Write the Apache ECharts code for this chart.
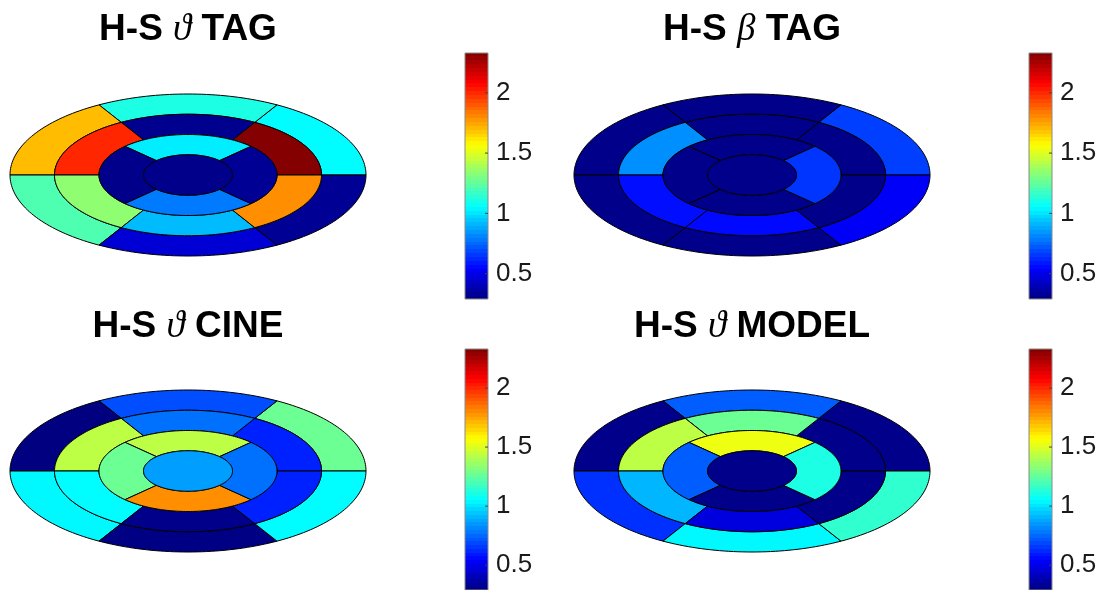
<!DOCTYPE html>
<html>
<head>
<meta charset="utf-8">
<script src="https://cdn.jsdelivr.net/npm/echarts@6.0.0/dist/echarts.min.js"></script>
<style>
html,body{margin:0;padding:0;background:#fff;}
#chart{width:1103px;height:590px;}
</style>
</head>
<body>
<div id="chart"></div>
<script>
// ---- data ----
// segment order: basal ring (6, from 0deg counter-clockwise by 60deg), mid ring (6, same),
// apical ring (4: top, left, bottom, right), apex (1)
const titlePrefix = ['H-S ', 'H-S ', 'H-S ', 'H-S '];
const titleGreek = ['ϑ', 'β', 'ϑ', 'ϑ'];
const titleSuffix = [' TAG', ' TAG', ' CINE', ' MODEL'];

const tagTheta   = [1.05, 1.11, 1.70, 1.21, 0.46, 0.33,  2.32, 0.32, 2.00, 1.34, 0.92, 1.79,  1.02, 0.31, 0.79, 0.33,  0.31];
const tagBeta    = [0.67, 0.31, 0.31, 0.31, 0.31, 0.53,  0.31, 0.31, 0.83, 0.57, 0.56, 0.31,  0.31, 0.31, 0.31, 0.65,  0.31];
const cineTheta  = [1.27, 0.70, 0.29, 1.04, 0.30, 1.05,  0.61, 0.77, 1.43, 1.05, 0.31, 0.61,  1.43, 1.27, 1.79, 0.77,  0.86];
const modelTheta = [0.31, 0.73, 0.31, 0.64, 1.04, 1.15,  0.31, 1.27, 1.43, 0.91, 0.48, 0.31,  1.53, 0.73, 0.31, 1.11,  0.31];

const colorTicks = [0.5, 1, 1.5, 2];
const CMIN = 0.29, CMAX = 2.33;

// ---- segment geometry (17-segment bull's-eye) ----
const ringBasal = [0.75, 1.0], ringMid = [0.5, 0.75], ringApical = [0.25, 0.5], ringApex = [0, 0.25];
const basalStarts = [0, 60, 120, 180, 240, 300];
const apicalStarts = [45, 135, 225, 315];
const segments = [];
basalStarts.forEach(a => segments.push([ringBasal[0], ringBasal[1], a, a + 60]));
basalStarts.forEach(a => segments.push([ringMid[0], ringMid[1], a, a + 60]));
apicalStarts.forEach(a => segments.push([ringApical[0], ringApical[1], a, a + 90]));
segments.push([ringApex[0], ringApex[1], 0, 360]);

const panels = [tagTheta, tagBeta, cineTheta, modelTheta];

// ---- layout ----
const cx = [188, 752, 188, 752];
const cy = [175, 175, 471, 471];
const RX = 178, RY = 81;
const cbLeft = [465, 1029, 465, 1029];
const cbTop = [53, 53, 349, 349];
const cbHeight = [246, 246, 242, 242];
const titleY = [30, 30, 327, 327];

// jet colormap
function jet(t) {
  const c = v => Math.max(0, Math.min(1, v));
  const r = c(Math.min(4 * t - 1.5, -4 * t + 4.5));
  const g = c(Math.min(4 * t - 0.5, -4 * t + 3.5));
  const b = c(Math.min(4 * t + 0.5, -4 * t + 2.5));
  return 'rgb(' + Math.round(r * 255) + ',' + Math.round(g * 255) + ',' + Math.round(b * 255) + ')';
}
const jetKeys = [];
for (let i = 0; i <= 8; i++) jetKeys.push(jet(i / 8));
const bandStops = [];
for (let i = 0; i < 64; i++) {
  const col = jet((i + 0.5) / 64);
  bandStops.push({offset: i / 64, color: col});
  bandStops.push({offset: (i + 1) / 64, color: col});
}

const grids = [], xAxes = [], yAxes = [], series = [], graphics = [];

panels.forEach((vals, p) => {
  grids.push({left: cx[p] - RX, top: cy[p] - RY, width: 2 * RX, height: 2 * RY, containLabel: false});
  xAxes.push({gridIndex: p, type: 'value', min: -1, max: 1, show: false});
  yAxes.push({gridIndex: p, type: 'value', min: -1, max: 1, show: false});
  series.push({
    type: 'custom',
    coordinateSystem: 'cartesian2d',
    xAxisIndex: p, yAxisIndex: p,
    clip: false,
    encode: {x: 0, y: 1},
    data: segments.map((s, i) => ({value: [s[0], s[1], s[2], s[3], vals[i]]})),
    renderItem: function (params, api) {
      const r0 = api.value(0), r1 = api.value(1), a0 = api.value(2), a1 = api.value(3);
      const n = Math.max(12, Math.ceil((a1 - a0) / 1.5));
      const pts = [];
      for (let i = 0; i <= n; i++) {
        const a = (a0 + (a1 - a0) * i / n) * Math.PI / 180;
        pts.push(api.coord([r1 * Math.cos(a), r1 * Math.sin(a)]));
      }
      if (r0 > 0) {
        for (let i = n; i >= 0; i--) {
          const a = (a0 + (a1 - a0) * i / n) * Math.PI / 180;
          pts.push(api.coord([r0 * Math.cos(a), r0 * Math.sin(a)]));
        }
      }
      return {
        type: 'polygon',
        shape: {points: pts},
        style: {fill: api.visual('color'), stroke: '#000', lineWidth: 1}
      };
    }
  });
  graphics.push({
    type: 'text',
    x: cx[p], y: titleY[p],
    style: {
      text: '{a|' + titlePrefix[p] + '}{g|' + titleGreek[p] + '}{a|' + titleSuffix[p] + '}',
      align: 'center', verticalAlign: 'middle',
      rich: {
        a: {fontFamily: 'Liberation Sans, Arial, sans-serif', fontWeight: 'bold', fontSize: 37, fill: '#000', color: '#000'},
        g: {fontFamily: 'Liberation Serif, DejaVu Serif, serif', fontStyle: 'italic', fontWeight: 'normal', fontSize: 37, fill: '#000', color: '#000'}
      }
    }
  });
});

// colorbars
panels.forEach((vals, p) => {
  const gi = 4 + p;
  grids.push({left: cbLeft[p], top: cbTop[p], width: 23, height: cbHeight[p], containLabel: false});
  xAxes.push({gridIndex: gi, type: 'value', min: 0, max: 1, show: false});
  yAxes.push({
    gridIndex: gi, type: 'value', min: CMIN, max: CMAX, position: 'right',
    axisLine: {show: false},
    axisTick: {show: false},
    axisLabel: {
      show: true, customValues: colorTicks, margin: 8,
      fontFamily: 'Liberation Sans, Arial, sans-serif', fontSize: 26, color: '#1a1a1a',
      formatter: v => String(v)
    },
    splitLine: {show: false}
  });
  series.push({
    type: 'custom',
    coordinateSystem: 'cartesian2d',
    xAxisIndex: gi, yAxisIndex: gi,
    silent: true,
    clip: false,
    data: [[0, CMIN, 1, CMAX]],
    renderItem: function (params, api) {
      const p0 = api.coord([api.value(0), api.value(3)]);
      const p1 = api.coord([api.value(2), api.value(1)]);
      const children = [{
        type: 'rect',
        shape: {x: p0[0], y: p0[1], width: p1[0] - p0[0], height: p1[1] - p0[1]},
        style: {
          fill: new echarts.graphic.LinearGradient(0, 1, 0, 0, bandStops),
          stroke: '#8a8a8a', lineWidth: 1
        }
      }];
      colorTicks.forEach(t => {
        const q = api.coord([api.value(2), t]);
        children.push({
          type: 'line',
          shape: {x1: q[0] - 3, y1: q[1], x2: q[0], y2: q[1]},
          style: {stroke: '#444', lineWidth: 1}
        });
      });
      return {type: 'group', children: children};
    }
  });
});

const chart = echarts.init(document.getElementById('chart'), null, {renderer: 'canvas'});
chart.setOption({
  backgroundColor: '#fff',
  animation: false,
  grid: grids,
  xAxis: xAxes,
  yAxis: yAxes,
  visualMap: [{
    type: 'continuous', show: false, min: CMIN, max: CMAX, dimension: 4,
    seriesIndex: [0, 1, 2, 3],
    inRange: {color: jetKeys}
  }],
  series: series,
  graphic: graphics
});
</script>
</body>
</html>
